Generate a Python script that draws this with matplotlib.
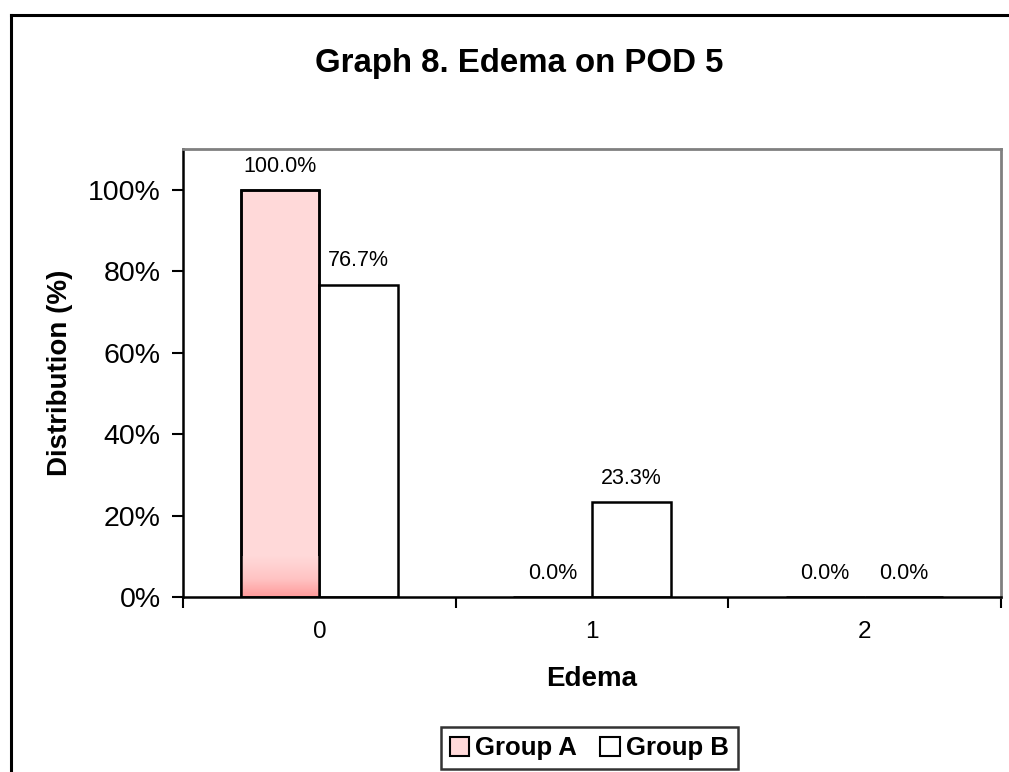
import numpy as np
import matplotlib.pyplot as plt
import matplotlib.ticker as mticker
from matplotlib.lines import Line2D
from matplotlib.patches import Patch
from matplotlib.colors import LinearSegmentedColormap

plt.rcParams["font.family"] = ["Liberation Sans", "DejaVu Sans"]

categories = ["0", "1", "2"]
group_a = [100.0, 0.0, 0.0]
group_b = [76.7, 23.3, 0.0]

PINK = "#FFD9D9"
PINK_DEEP = "#FF9A9A"

fig = plt.figure(figsize=(10.09, 7.72), dpi=100)
ax = fig.add_axes([0.1814, 0.2267, 0.8106, 0.5803])

x = np.arange(len(categories))
w = 0.289
bars_a = ax.bar(x - w / 2, group_a, w, color=PINK, edgecolor="black", lw=1.8,
                label="Group A", zorder=2)
bars_b = ax.bar(x + w / 2, group_b, w, color="white", edgecolor="black", lw=1.8,
                label="Group B", zorder=2)

# darker pink fade at the foot of the Group A bars
cmap = LinearSegmentedColormap.from_list(
    "fade", [(0, PINK_DEEP), (0.45, "#FFC4C4"), (1, PINK)])
grad = np.linspace(0, 1, 128).reshape(-1, 1)
for b in bars_a:
    h = b.get_height()
    if h <= 0:
        continue
    fade_top = min(h, 10.0)
    im = ax.imshow(grad, cmap=cmap, aspect="auto", origin="lower",
                   extent=(b.get_x(), b.get_x() + b.get_width(), 0, fade_top),
                   zorder=2.5)
    im.set_clip_path(b)
    ax.bar(b.get_x() + b.get_width() / 2, h, b.get_width(),
           fill=False, edgecolor="black", lw=1.8, zorder=3)

for b, v in zip(list(bars_a) + list(bars_b), group_a + group_b):
    ax.annotate(f"{v:.1f}%", xy=(b.get_x() + b.get_width() / 2, v),
                xytext=(0, 9.5), textcoords="offset points",
                ha="center", va="bottom", fontsize=15.5)

ax.set_xlim(-0.5, 2.5)
ax.set_ylim(0, 110)
ax.set_yticks([0, 20, 40, 60, 80, 100])
ax.yaxis.set_major_formatter(mticker.FuncFormatter(lambda y, _: f"{y:.0f}%"))
ax.set_xticks(x)
ax.set_xticklabels(categories)
ax.set_xticks([-0.5, 0.5, 1.5, 2.5], minor=True)
ax.tick_params(axis="x", which="major", length=0, pad=17, labelsize=17.5)
ax.tick_params(axis="x", which="minor", length=8, width=1.5, direction="out")
ax.tick_params(axis="y", length=8, width=1.5, direction="out", pad=8, labelsize=20.5)

for side in ("left", "bottom"):
    ax.spines[side].set_color("black")
    ax.spines[side].set_linewidth(1.8)
for side in ("top", "right"):
    ax.spines[side].set_color("#808080")
    ax.spines[side].set_linewidth(2.0)

ax.set_xlabel("Edema", fontsize=20, fontweight="bold", labelpad=17)
ax.set_ylabel("Distribution (%)", fontsize=20, fontweight="bold", labelpad=11)
fig.text(0.5145, 0.918, "Graph 8. Edema on POD 5", ha="center", va="center",
         fontsize=23.8, fontweight="bold")

handles = [Patch(facecolor=PINK, edgecolor="black", lw=1.5, label="Group A"),
           Patch(facecolor="white", edgecolor="black", lw=1.5, label="Group B")]
leg = fig.legend(handles=handles, loc="center", bbox_to_anchor=(0.584, 0.031),
                 ncol=2, frameon=True, fancybox=False,
                 prop={"weight": "bold", "size": 18.5},
                 handlelength=0.75, handleheight=0.75, handletextpad=0.25,
                 columnspacing=0.9, borderpad=0.35, borderaxespad=0,
                 edgecolor="black")
leg.get_frame().set_linewidth(1.8)

# outer chart border (left and top edges)
fig.add_artist(Line2D([11 / 1009, 11 / 1009], [0, 1 - 15 / 772],
                      color="black", lw=2.2, transform=fig.transFigure))
fig.add_artist(Line2D([11 / 1009, 1], [1 - 15 / 772, 1 - 15 / 772],
                      color="black", lw=2.2, transform=fig.transFigure))

fig.savefig("out.png", dpi=100)
